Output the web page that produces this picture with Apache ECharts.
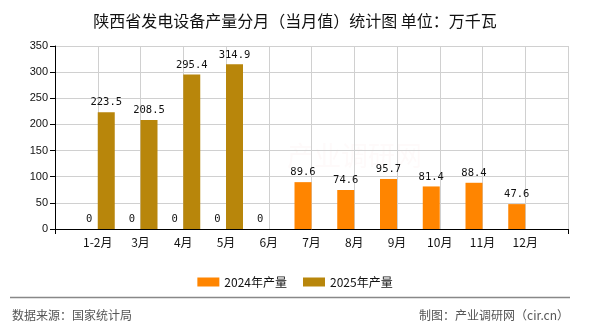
<!DOCTYPE html>
<html>
<head>
<meta charset="utf-8">
<script src="https://cdn.jsdelivr.net/npm/echarts@6/dist/echarts.min.js"></script>
<style>html,body{margin:0;padding:0;background:#fff;}#c{width:590px;height:330px;}</style>
</head>
<body>
<div id="c"></div>
<script>
var categories = ['', '1-2月', '3月', '4月', '5月', '6月', '7月', '8月', '9月', '10月', '11月', '12月', ''];
var values2024 = [null, 0, 0, 0, 0, 0, 89.6, 74.6, 95.7, 81.4, 88.4, 47.6, null];
var values2025 = [null, 223.5, 208.5, 295.4, 314.9, null, null, null, null, null, null, null, null];
var yTicks = [0, 50, 100, 150, 200, 250, 300, 350];

var chart = echarts.init(document.getElementById('c'), null, {renderer: 'canvas'});
var cjk = '"Noto Sans CJK SC", "Liberation Sans", sans-serif';
var labelStyle = {show: true, position: 'top', distance: 4, fontFamily: '"DejaVu Sans Mono", monospace', fontSize: 10.5, color: '#111'};
chart.setOption({
  animation: false,
  title: {
    text: '陕西省发电设备产量分月（当月值）统计图 单位：万千瓦',
    left: 'center', top: 8,
    textStyle: {fontFamily: cjk, fontSize: 16, fontWeight: 'normal', color: '#111'}
  },
  legend: {
    data: ['2024年产量', '2025年产量'],
    left: 'center', top: 271,
    itemWidth: 22, itemHeight: 9, itemGap: 16,
    icon: 'rect',
    textStyle: {fontFamily: cjk, fontSize: 12, color: '#111'}
  },
  grid: {left: 55, right: 22, top: 46, bottom: 101},
  xAxis: {
    type: 'category',
    data: categories,
    boundaryGap: false,
    axisLine: {lineStyle: {color: '#000', width: 1}},
    axisTick: {show: true, length: 5, interval: function (i) { return i === 0 || i === categories.length - 1; }, lineStyle: {color: '#000'}},
    axisLabel: {interval: 0, margin: 7, fontFamily: cjk, fontSize: 12, color: '#111'},
    splitLine: {show: true, interval: 0, lineStyle: {color: '#d0d0d0', width: 1}}
  },
  yAxis: {
    type: 'value',
    min: yTicks[0], max: yTicks[yTicks.length - 1], interval: yTicks[1] - yTicks[0],
    axisLine: {show: true, lineStyle: {color: '#000', width: 1}},
    axisTick: {show: true, length: 5, lineStyle: {color: '#000'}},
    axisLabel: {margin: 7, fontFamily: '"Liberation Sans", sans-serif', fontSize: 11, color: '#111'},
    splitLine: {show: true, lineStyle: {color: '#d0d0d0', width: 1}}
  },
  series: [
    {name: '2024年产量', type: 'bar', data: values2024, barWidth: 17, barGap: '0%', itemStyle: {color: '#FF8500'}, label: labelStyle},
    {name: '2025年产量', type: 'bar', data: values2025, barWidth: 17, barGap: '0%', itemStyle: {color: '#B8860B'}, label: labelStyle}
  ],
  graphic: [
    {type: 'text', left: 287, top: 142, silent: true, z: -1, style: {text: '产业调研网', font: '27px "Noto Sans CJK SC"', fill: 'rgba(230,150,150,0.045)'}},
    {type: 'line', shape: {x1: 10, y1: 297.5, x2: 570, y2: 297.5}, style: {stroke: '#888', lineWidth: 1.5}},
    {type: 'text', left: 12, top: 309, style: {text: '数据来源：国家统计局', font: '12px "Noto Sans CJK SC"', fill: '#555'}},
    {type: 'text', right: 21, top: 309, style: {text: '制图：产业调研网（cir.cn）', font: '12px "Noto Sans CJK SC"', fill: '#555'}}
  ]
});
</script>
</body>
</html>
